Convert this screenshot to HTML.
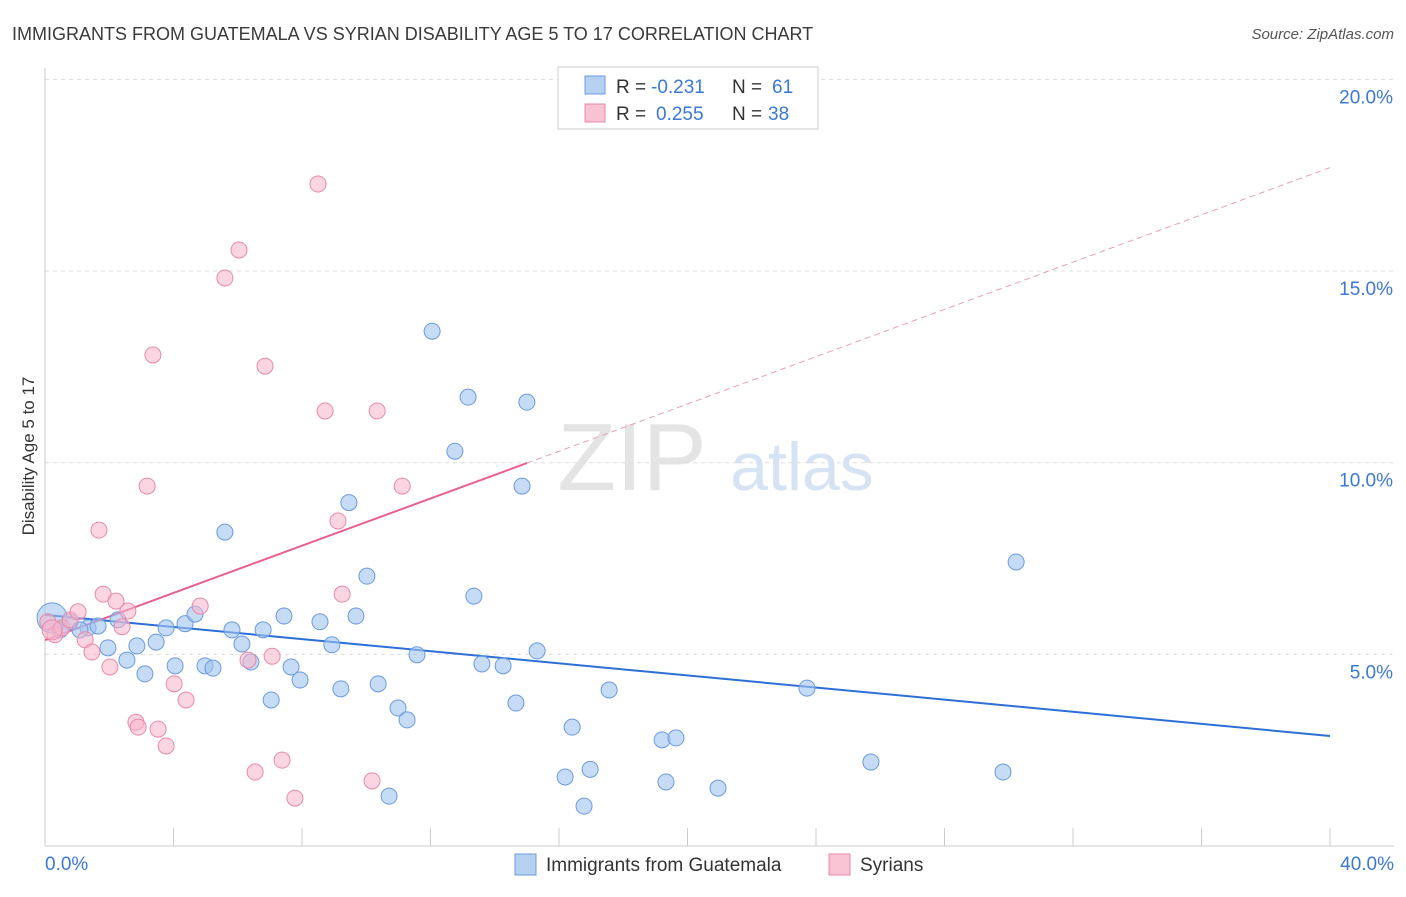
<!DOCTYPE html>
<html><head><meta charset="utf-8"><style>
body{margin:0;background:#fff;font-family:"Liberation Sans",sans-serif;}
svg text{font-family:"Liberation Sans",sans-serif;}
</style></head><body>
<svg id="chart" width="1406" height="892">
<text x="12" y="40" font-size="18" fill="#3a3a3a">IMMIGRANTS FROM GUATEMALA VS SYRIAN DISABILITY AGE 5 TO 17 CORRELATION CHART</text>
<text x="1394" y="39" font-size="15" fill="#555" font-style="italic" text-anchor="end">Source: ZipAtlas.com</text>
<text x="34" y="456" font-size="17" fill="#333" text-anchor="middle" transform="rotate(-90 34 456)">Disability Age 5 to 17</text>
<g>
<text x="632" y="490" font-size="96" fill="#e4e4e4" text-anchor="middle" font-family="Liberation Serif">ZIP</text>
<text x="802" y="490" font-size="68" fill="#d6e3f4" text-anchor="middle">atlas</text>
</g>
<g id="grid"></g><g id="axes"></g><g id="lines"></g><g id="pts"></g>
<g>
<rect x="558" y="67" width="260" height="62" fill="#fff" stroke="#ccc"/>
<rect x="585" y="76" width="20" height="18" fill="#b6d0f2" stroke="#6b9be0"/>
<rect x="585" y="104" width="20" height="18" fill="#f8c3d3" stroke="#e88aa9"/>
<g font-size="19" fill="#333">
<text x="616" y="93">R =</text><text x="651" y="93" fill="#3b78d8">-0.231</text>
<text x="732" y="93">N =</text><text x="772" y="93" fill="#3b78d8">61</text></g>
<g font-size="19" fill="#333">
<text x="616" y="120">R =</text><text x="656" y="120" fill="#3b78d8">0.255</text>
<text x="732" y="120">N =</text><text x="768" y="120" fill="#3b78d8">38</text></g>
</g>
<g>
<rect x="515" y="854" width="21" height="21" fill="#b6d0f2" stroke="#6b9be0"/>
<text x="546" y="871" font-size="19" fill="#333">Immigrants from Guatemala</text>
<rect x="829" y="854" width="21" height="21" fill="#f8c3d3" stroke="#e88aa9"/>
<text x="860" y="871" font-size="19" fill="#333">Syrians</text>
</g>
</svg>
<script>
const yTicks=[5,10,15,20];
const yTickLabels=["5.0%","10.0%","15.0%","20.0%"];
const xTicks=[0,4,8,12,16,20,24,28,32,36,40];
const blueX=[0.22,0.78,1.34,1.65,1.96,2.27,2.55,2.86,3.11,3.46,3.77,4.05,4.36,4.67,4.98,5.23,5.60,5.82,6.13,6.41,6.79,7.04,7.44,7.66,7.94,8.56,8.93,9.21,9.46,9.68,10.02,10.37,10.71,10.99,11.27,11.58,12.05,12.76,13.17,13.35,13.60,14.26,14.66,14.85,15.00,15.32,16.19,16.41,16.78,16.97,17.56,19.21,19.33,19.64,20.95,23.72,25.71,29.82,30.23,0.47,1.09];
const blueY=[5.95,5.85,5.69,5.74,5.17,5.90,4.85,5.22,4.49,5.32,5.69,4.70,5.80,6.05,4.70,4.64,8.19,5.64,5.27,4.80,5.64,3.81,6.00,4.67,4.33,5.85,5.25,4.10,8.96,6.00,7.04,4.23,1.30,3.60,3.29,4.99,13.43,10.30,11.71,6.52,4.75,4.70,3.73,9.39,11.58,5.09,1.80,3.10,1.04,2.00,4.07,2.77,1.67,2.82,1.51,4.12,2.19,1.93,7.41,5.64,5.64];
const pinkX=[0.09,0.31,0.53,0.78,1.03,1.25,1.46,1.81,1.68,2.02,2.21,2.40,2.58,2.83,2.90,3.18,3.36,3.52,3.77,4.02,4.39,4.83,5.60,6.04,6.32,6.54,6.85,7.07,7.38,7.78,8.50,8.72,9.12,9.25,10.18,10.34,11.12,0.22];
const pinkY=[5.85,5.51,5.69,5.90,6.11,5.38,5.06,6.57,8.24,4.67,6.39,5.72,6.13,3.23,3.10,9.39,12.81,3.05,2.61,4.23,3.81,6.26,14.82,15.55,4.85,1.93,12.52,4.95,2.24,1.25,17.27,11.35,8.48,6.57,1.70,11.35,9.39,5.64];
const blueTrend=[6.03,2.87];
const pinkTrend=[5.37,9.99,17.7];
const NS="http://www.w3.org/2000/svg";
const sx=v=>45+v*1285/40, sy=v=>846-v*38.33;
function mk(tag,attrs,parent){const e=document.createElementNS(NS,tag);for(const k in attrs)e.setAttribute(k,attrs[k]);document.getElementById(parent).appendChild(e);return e;}
yTicks.forEach((t,i)=>{
 const g=mk('line',{x1:45,x2:1394,y1:sy(t),y2:sy(t),stroke:'#ddd','stroke-dasharray':'4,4'},'grid');
 
 
 const l=mk('text',{x:1393,y:sy(t)+24,'font-size':19,fill:'#3b78d8','text-anchor':'end'},'grid');
 l.textContent=yTickLabels[i];
 
 
});
const ax=mk('line',{x1:45,x2:1394,y1:846,y2:846,stroke:'#ccc'},'axes');


const ay=mk('line',{x1:45,x2:45,y1:68,y2:846,stroke:'#ccc'},'axes');


xTicks.forEach(t=>{const e=mk('line',{x1:sx(t),x2:sx(t),y1:828,y2:846,stroke:'#ccc'},'axes');
 
 });
const x0=mk('text',{x:45,y:870,'font-size':19,fill:'#3b78d8'},'axes');x0.textContent='0.0%';


const x1=mk('text',{x:1394,y:870,'font-size':19,fill:'#3b78d8','text-anchor':'end'},'axes');x1.textContent='40.0%';


const bl=mk('line',{x1:sx(0),y1:sy(blueTrend[0]),x2:sx(40),y2:sy(blueTrend[1]),stroke:'#2d6fd6','stroke-width':2},'lines');


const pl=mk('line',{x1:sx(0),y1:sy(pinkTrend[0]),x2:sx(15),y2:sy(pinkTrend[1]),stroke:'#e8608e','stroke-width':2},'lines');


const pd=mk('line',{x1:sx(15),y1:sy(pinkTrend[1]),x2:sx(40),y2:sy(pinkTrend[2]),stroke:'#e8a0b8','stroke-width':1,'stroke-dasharray':'6,4'},'lines');


blueX.forEach((x,i)=>{const c=mk('circle',{cx:sx(x),cy:sy(blueY[i]),r:i===0?15:8,fill:'rgba(160,195,238,0.6)',stroke:'#6b9be0','stroke-width':1},'pts');
 
 });
pinkX.forEach((x,i)=>{const c=mk('circle',{cx:sx(x),cy:sy(pinkY[i]),r:i===pinkX.length-1?10:8,fill:'rgba(247,180,202,0.55)',stroke:'#e88aa9','stroke-width':1},'pts');
 
 });
</script>
</body></html>
